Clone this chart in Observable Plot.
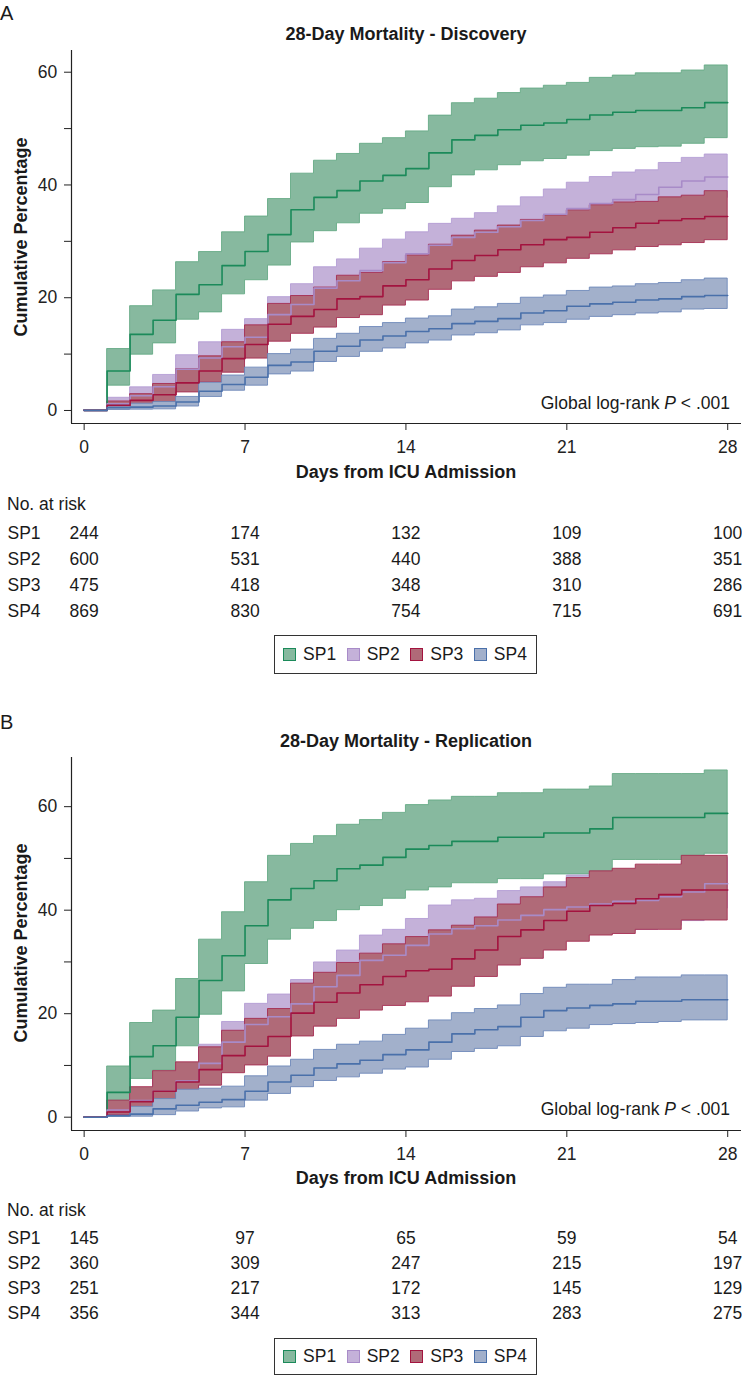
<!DOCTYPE html>
<html>
<head>
<meta charset="utf-8">
<script src="https://cdn.jsdelivr.net/npm/d3@7"></script>
<script src="https://cdn.jsdelivr.net/npm/@observablehq/plot@0.6"></script>
<style>
  body { margin: 0; background: #fff; }
  #page { position: relative; width: 742px; height: 1376px; overflow: hidden;
          font-family: "Liberation Sans", Arial, Helvetica, sans-serif; color: #1a1a1a; }
  .abs { position: absolute; white-space: nowrap; line-height: 1; }
  .letter { font-size: 20px; left: 0; transform: translateY(-50%); }
  .title, .xlab { font-weight: bold; font-size: 18px; transform: translate(-50%, -50%); }
  .ylab { font-weight: bold; font-size: 18px; transform: translate(-50%, -50%) rotate(-90deg); }
  .note { font-size: 17.5px; transform: translate(-100%, -50%); }
  .risk { font-size: 17.5px; left: 7px; transform: translateY(-50%); }
  .plotwrap { position: absolute; left: 0; }
  .plotwrap svg { overflow: visible; display: block; }
  .legend { position: absolute; box-sizing: border-box; border: 1.5px solid #333;
            display: flex; align-items: center; justify-content: center; gap: 10.5px; font-size: 17.5px; }
  .legend .item { display: flex; align-items: center; gap: 7px; }
  .legend .sw { width: 13px; height: 13px; box-sizing: border-box; border: 1.5px solid; }
</style>
</head>
<body>
<div id="page"></div>
<script>
// ---------- data ----------
const groups = ["SP1", "SP2", "SP3", "SP4"];
const days = [0,1,2,3,4,5,6,7,8,9,10,11,12,13,14,15,16,17,18,19,20,21,22,23,24,25,26,27];
const endDay = 28;
const dayTicks = [0, 7, 14, 21, 28];
const yTicks = [0, 10, 20, 30, 40, 50, 60];

// Discovery cohort (cumulative %): hi = upper CI, est = estimate, lo = lower CI
const discSP1Hi  = [0,10.9,18.5,21.3,26.3,28.1,31.6,34.4,37.5,42.0,44.3,45.5,47.3,48.3,49.5,52.3,54.5,55.3,56.3,57.1,57.6,58.1,59.0,59.4,59.8,59.8,60.3,61.2];
const discSP1Est = [0,7.0,13.5,16.0,20.6,22.3,25.7,28.2,31.2,35.6,37.8,39.0,40.7,41.7,42.9,45.7,48.0,48.8,49.8,50.6,51.0,51.6,52.4,52.9,53.2,53.2,53.7,54.6];
const discSP1Lo  = [0,4.4,9.9,11.9,16.1,17.4,20.6,23.1,25.7,29.8,31.8,33.2,34.9,35.7,36.8,39.6,41.7,42.6,43.5,44.2,44.6,45.2,46.0,46.4,46.7,46.8,47.3,48.3];
const discSP2Hi  = [0,2.25,4.1,6.3,9.8,12.1,14.3,16.2,20.1,22.4,25.4,26.8,28.7,30.3,31.6,33.1,34.0,35.0,36.2,37.8,39.2,40.4,41.4,42.2,42.6,43.9,44.8,45.4];
const discSP2Est = [0,1.2,2.6,4.2,7.3,9.3,11.3,13.0,17.0,18.8,21.7,23.0,24.8,26.2,27.8,29.3,30.7,31.6,32.6,33.7,34.8,35.8,36.7,37.4,38.3,39.6,40.7,41.4];
const discSP2Lo  = [0,0.45,1.4,2.4,5.1,6.8,8.6,10.1,14.2,15.5,18.3,19.5,21.2,22.4,24.3,25.8,27.7,28.5,29.3,29.9,30.7,31.5,32.3,32.9,34.3,35.6,36.9,37.7];
const discSP3Hi  = [0,1.6,2.9,4.7,7.3,9.6,12.1,15.1,18.9,20.3,21.8,23.9,24.4,26.3,27.5,29.4,31.0,31.9,32.8,33.8,34.6,35.5,36.4,36.9,37.0,37.8,38.1,38.9];
const discSP3Est = [0,0.9,1.8,2.8,4.9,7.0,9.2,11.7,15.3,16.7,17.9,19.8,20.2,22.1,23.2,25.1,26.6,27.5,28.5,29.4,30.3,30.7,31.6,32.4,33.2,33.7,34.0,34.4];
const discSP3Lo  = [0,0.2,0.7,1.4,3.2,5.0,6.7,9.2,12.2,13.6,14.7,16.4,16.9,18.6,19.5,21.4,22.9,23.7,24.4,25.4,26.1,26.9,27.7,28.4,29.0,29.3,29.7,30.2];
const discSP4Hi  = [0,1.0,1.2,1.5,2.4,4.9,6.2,7.6,10.0,10.8,12.7,13.6,14.8,15.5,16.3,16.7,17.9,18.3,18.9,20.0,20.4,21.2,21.8,22.0,22.4,22.6,23.1,23.4];
const discSP4Est = [0,0.5,0.6,0.8,1.5,3.4,4.6,5.9,8.0,8.6,10.5,11.4,12.5,13.2,14.0,14.5,15.4,15.8,16.3,17.3,17.7,18.5,18.9,19.2,19.6,19.8,20.2,20.4];
const discSP4Lo  = [0,0.1,0.15,0.2,0.7,2.4,3.5,4.4,6.4,6.9,8.6,9.5,10.4,11.0,11.9,12.4,13.3,13.7,14.2,15.1,15.5,16.1,16.6,16.9,17.2,17.4,17.9,18.0];

// Replication cohort
const repSP1Hi  = [0,9.8,18.2,20.6,26.7,34.3,39.6,45.4,50.5,52.8,54.3,56.5,57.4,58.8,60.3,61.2,61.9,61.9,62.6,62.6,63.3,63.3,63.9,66.3,66.3,66.3,66.3,67.0];
const repSP1Est = [0,4.8,11.7,13.8,19.3,26.4,31.2,37.0,42.0,44.2,45.7,48.0,48.7,50.2,51.8,52.5,53.3,53.3,54.1,54.1,54.9,54.9,55.7,57.9,57.9,57.9,57.9,58.7];
const repSP1Lo  = [0,2.2,7.4,9.0,13.7,19.8,24.3,29.6,34.3,36.4,37.9,40.0,40.8,42.2,43.8,44.4,45.2,45.2,46.0,46.0,46.9,46.9,46.9,49.7,49.7,49.7,49.7,50.9];
const repSP2Hi  = [0,2.8,5.4,7.8,10.3,14.0,18.4,21.9,23.7,26.5,29.9,32.2,35.1,36.2,38.3,40.9,41.9,42.2,43.7,44.4,45.4,46.7,47.3,47.6,47.8,48.5,49.3,50.1];
const repSP2Est = [0,1.4,3.2,5.0,7.0,10.4,14.5,17.9,19.4,21.9,25.2,27.4,30.3,31.3,33.2,35.4,36.4,37.0,38.1,39.0,40.1,40.6,41.2,41.7,41.9,42.6,43.5,45.1];
const repSP2Lo  = [0,0.3,1.3,2.5,4.0,7.1,11.0,14.2,15.4,17.6,20.8,22.9,25.8,26.7,28.4,30.2,31.2,32.1,32.8,33.8,35.0,35.2,35.4,36.0,36.2,37.0,37.9,40.3];
const repSP3Hi  = [0,3.2,5.8,8.9,10.6,13.5,16.7,19.0,20.9,25.8,27.9,29.8,31.6,33.4,34.8,36.1,37.0,38.6,41.1,42.5,44.4,46.2,47.5,48.0,48.8,48.8,50.5,50.5];
const repSP3Est = [0,1.0,3.0,5.0,6.8,9.2,11.9,13.7,15.6,20.1,22.2,24.0,25.6,27.2,28.3,28.6,30.6,32.3,34.9,36.2,38.0,39.8,40.9,41.3,42.2,43.0,43.9,43.9];
const repSP3Lo  = [0,0.4,1.2,3.3,4.3,6.1,8.5,10.0,11.7,15.6,17.5,19.0,20.6,21.5,22.2,23.3,25.2,27.1,29.3,30.6,32.2,33.9,35.1,35.4,36.2,36.2,38.0,38.0];
const repSP4Hi  = [0,0.3,2.0,3.5,5.3,5.5,5.9,7.9,9.8,11.1,13.0,14.0,14.6,15.9,17.1,18.7,20.1,20.9,21.6,23.8,25.0,25.6,25.6,26.5,27.0,27.0,27.4,27.4];
const repSP4Est = [0,0.28,0.6,1.6,2.3,2.9,3.4,5.0,6.8,8.1,9.5,10.3,11.0,12.1,13.0,14.5,16.1,16.9,17.5,19.3,20.6,21.1,21.6,21.9,22.4,22.4,22.7,22.7];
const repSP4Lo  = [0,0.04,0.1,0.4,1.1,1.7,1.9,3.2,4.5,5.8,7.0,7.7,8.4,9.2,9.6,11.1,12.6,13.2,13.7,15.5,16.6,17.1,17.8,18.0,18.2,18.4,18.7,18.7];

// Number at risk
const riskDays = [0, 7, 14, 21, 28];
const discRiskSP1 = [244, 174, 132, 109, 100];
const discRiskSP2 = [600, 531, 440, 388, 351];
const discRiskSP3 = [475, 418, 348, 310, 286];
const discRiskSP4 = [869, 830, 754, 715, 691];
const repRiskSP1 = [145, 97, 65, 59, 54];
const repRiskSP2 = [360, 309, 247, 215, 197];
const repRiskSP3 = [251, 217, 172, 145, 129];
const repRiskSP4 = [356, 344, 313, 283, 275];

// ---------- styling ----------
const FILLS = ["#87b99f", "#c4b1d9", "#b06a78", "#a2b0cb"];
const LINES = ["#1b8a5a", "#a88bc8", "#a3133f", "#4a70aa"];
const EDGES = ["#62a883", "#b39bd3", "#a3284e", "#6a85b7"];
const FONT = '"Liberation Sans", Arial, Helvetica, sans-serif';
const X_DOMAIN = [-0.55, 28.6];

function series(lo, est, hi) {
  const rows = days.map((d, i) => ({day: d, lo: lo[i], est: est[i], hi: hi[i]}));
  const last = rows[rows.length - 1];
  rows.push({...last, day: endDay});
  return rows;
}

function chart(sets, yDomain) {
  const marks = [];
  sets.forEach((rows, i) => {
    marks.push(Plot.areaY(rows, {x: "day", y1: "lo", y2: "hi", curve: "step-after",
      fill: FILLS[i], stroke: EDGES[i], strokeWidth: 1, strokeOpacity: 0.85}));
  });
  sets.forEach((rows, i) => {
    marks.push(Plot.lineY(rows, {x: "day", y: "est", curve: "step-after",
      stroke: LINES[i], strokeWidth: 1.6}));
  });
  marks.push(Plot.ruleX([X_DOMAIN[0]], {stroke: "#222", strokeWidth: 1.2}));
  marks.push(Plot.ruleY([yDomain[0]], {stroke: "#222", strokeWidth: 1.2}));
  return Plot.plot({
    width: 742, height: 418,
    marginTop: 10, marginBottom: 35, marginLeft: 71, marginRight: 1,
    style: {fontFamily: FONT, fontSize: "17.5px", color: "#222", background: "transparent"},
    x: {domain: X_DOMAIN, ticks: dayTicks, tickSize: 7, tickPadding: 10.5, label: null},
    y: {domain: yDomain, ticks: yTicks, tickSize: 7, tickPadding: 7.3, label: null,
        tickFormat: d => (d % 20 === 0 ? String(d) : "")},
    marks
  });
}

function riskTable(riskLists, rowStep) {
  const rows = [];
  riskLists.forEach((list, gi) => list.forEach((n, k) => rows.push({group: groups[gi], day: riskDays[k], n})));
  const pad = 13;
  return Plot.plot({
    width: 742, height: 3 * rowStep + 2 * pad,
    marginTop: pad, marginBottom: pad, marginLeft: 71, marginRight: 1,
    style: {fontFamily: FONT, fontSize: "17.5px", color: "#1a1a1a", background: "transparent"},
    x: {domain: X_DOMAIN, axis: null},
    y: {type: "point", domain: groups, axis: null, padding: 0},
    marks: [
      Plot.text(rows, {x: "day", y: "group", text: d => String(d.n), textAnchor: "middle", fill: "#1a1a1a"}),
      Plot.text(groups, {y: d => d, text: d => d, frameAnchor: "left", dx: -64, textAnchor: "start", fill: "#1a1a1a"})
    ]
  });
}

const page = document.getElementById("page");
function addDiv(cls, text, left, top, html) {
  const el = document.createElement("div");
  el.className = "abs " + cls;
  if (html) el.innerHTML = text; else el.textContent = text;
  if (left !== null) el.style.left = left + "px";
  el.style.top = top + "px";
  page.appendChild(el);
  return el;
}
function addPlot(svg, top) {
  const w = document.createElement("div");
  w.className = "plotwrap";
  w.style.top = top + "px";
  w.appendChild(svg);
  page.appendChild(w);
}
function addLegend(top, height) {
  const lg = document.createElement("div");
  lg.className = "legend";
  lg.style.left = "273.5px"; lg.style.top = top + "px";
  lg.style.width = "263px"; lg.style.height = height + "px";
  groups.forEach((g, i) => {
    const it = document.createElement("div"); it.className = "item";
    const sw = document.createElement("div"); sw.className = "sw";
    sw.style.background = FILLS[i]; sw.style.borderColor = LINES[i];
    const tx = document.createElement("span"); tx.textContent = g;
    it.appendChild(sw); it.appendChild(tx); lg.appendChild(it);
  });
  page.appendChild(lg);
}

function panel(o) {
  addDiv("letter", o.letter, 0, o.letterY);
  addDiv("title", o.title, 406, o.titleY);
  addPlot(chart(o.sets, o.yDomain), o.plotTop);
  addDiv("ylab", "Cumulative Percentage", 21, o.plotTop + 10 + 186.5);
  addDiv("xlab", "Days from ICU Admission", 406, o.xlabY);
  addDiv("note", "Global log-rank <i>P</i> &lt; .001", 730, o.noteY, true);
  addDiv("risk", "No. at risk", null, o.riskHeadY);
  addPlot(riskTable(o.risk, o.rowStep), o.riskTop - 13);
  addLegend(o.legendTop, o.legendH);
}

panel({
  letter: "A", letterY: 13, title: "28-Day Mortality - Discovery", titleY: 34,
  sets: [series(discSP1Lo, discSP1Est, discSP1Hi), series(discSP2Lo, discSP2Est, discSP2Hi),
         series(discSP3Lo, discSP3Est, discSP3Hi), series(discSP4Lo, discSP4Est, discSP4Hi)],
  yDomain: [-2.31, 63.85], plotTop: 40, xlabY: 472, noteY: 404,
  riskHeadY: 505, risk: [discRiskSP1, discRiskSP2, discRiskSP3, discRiskSP4],
  riskTop: 531.7, rowStep: 26.67, legendTop: 635, legendH: 38.5
});
panel({
  letter: "B", letterY: 722, title: "28-Day Mortality - Replication", titleY: 741,
  sets: [series(repSP1Lo, repSP1Est, repSP1Hi), series(repSP2Lo, repSP2Est, repSP2Hi),
         series(repSP3Lo, repSP3Est, repSP3Hi), series(repSP4Lo, repSP4Est, repSP4Hi)],
  yDomain: [-2.57, 69.5], plotTop: 746.7, xlabY: 1178.3, noteY: 1110,
  riskHeadY: 1211, risk: [repRiskSP1, repRiskSP2, repRiskSP3, repRiskSP4],
  riskTop: 1236.7, rowStep: 25.9, legendTop: 1337.7, legendH: 37.5
});
</script>
</body>
</html>
